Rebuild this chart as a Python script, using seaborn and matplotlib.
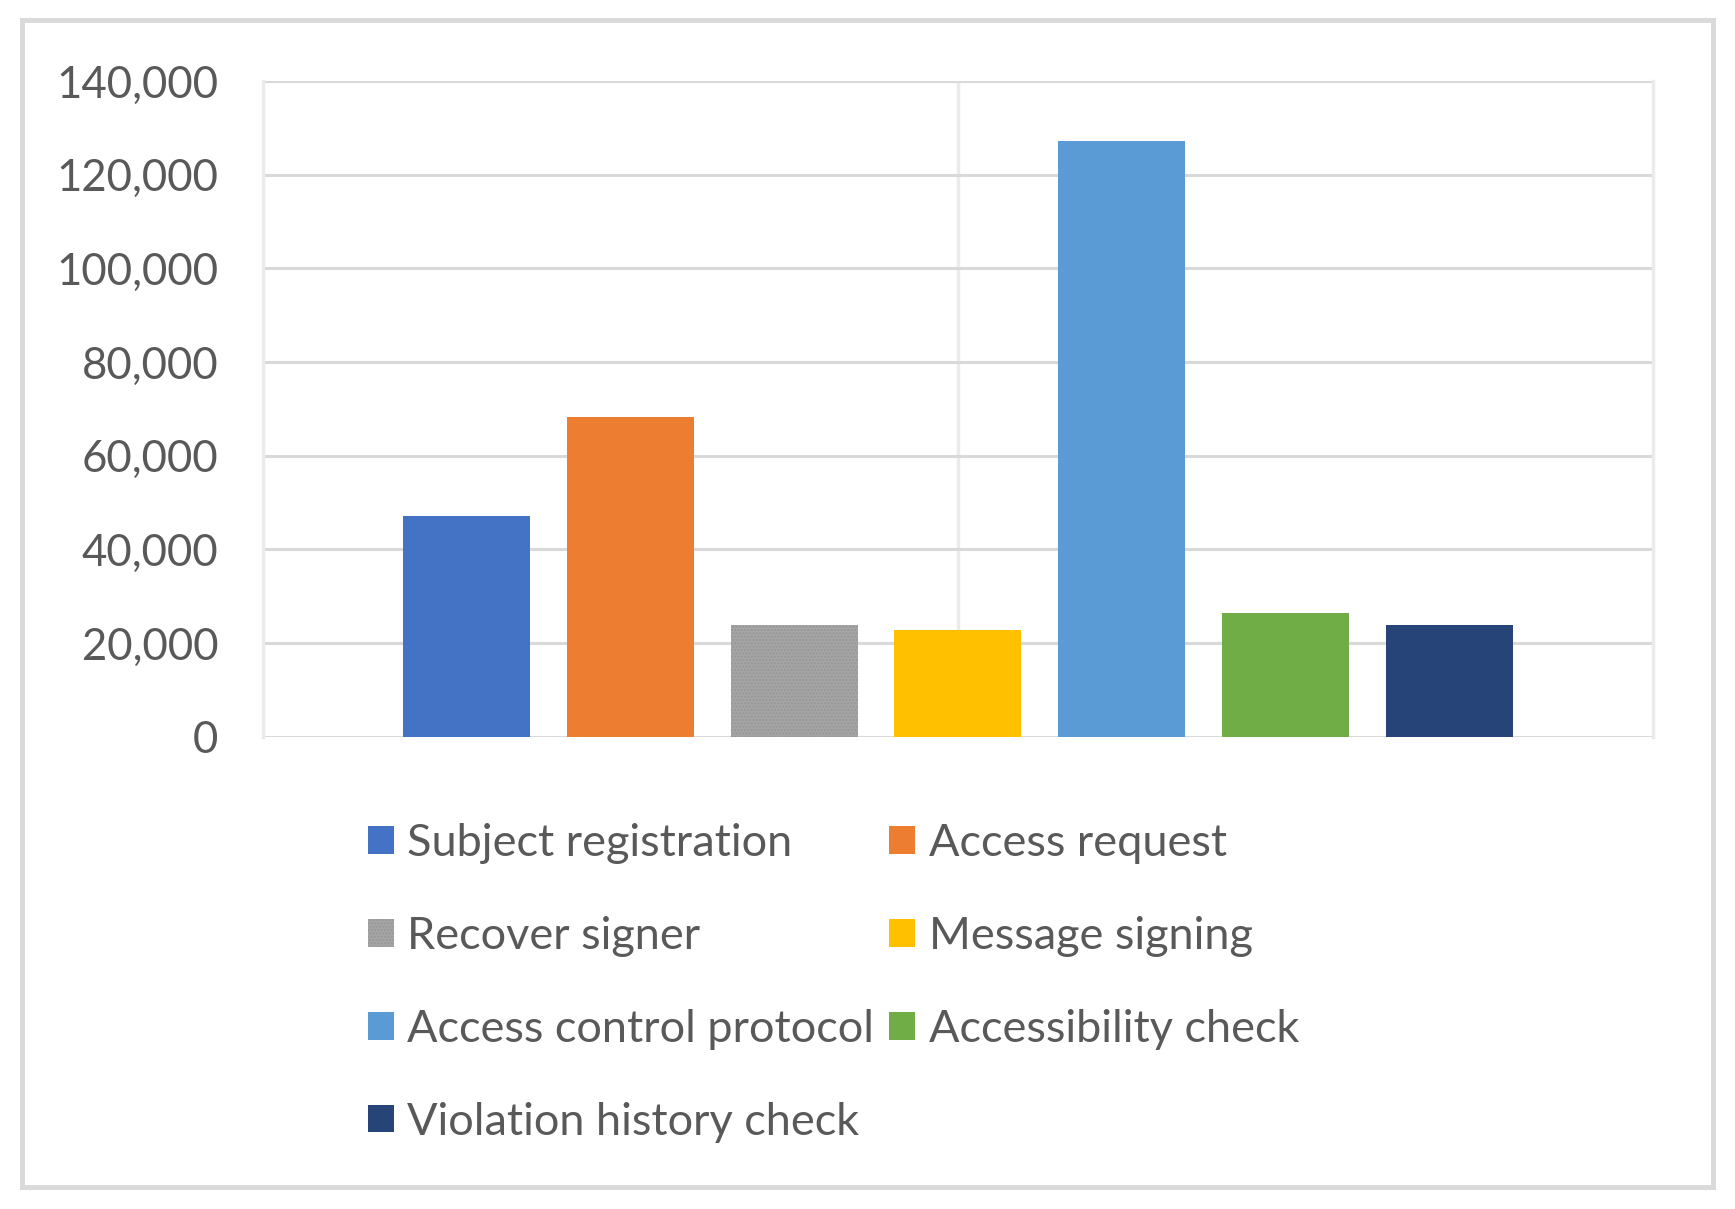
import matplotlib
matplotlib.use("Agg")
import matplotlib.pyplot as plt
import matplotlib.ticker as mticker
from matplotlib.patches import Rectangle
import seaborn as sns
import pandas as pd

categories = ["Subject registration", "Access request", "Recover signer",
              "Message signing", "Access control protocol",
              "Accessibility check", "Violation history check"]
values = [47100, 68200, 23800, 22800, 127200, 26500, 23750]
colors = ["#4472C4", "#ED7D31", "#A5A5A5", "#FFC000", "#5B9BD5", "#70AD47", "#264478"]
yticks = [0, 20000, 40000, 60000, 80000, 100000, 120000, 140000]

sns.set_theme(style="white")
plt.rcParams["font.family"] = ["Lato", "DejaVu Sans"]
TXT = "#595959"
FS_TICK = 31.5
FS_LEG = 32.5

W, H = 1735, 1209
fig = plt.figure(figsize=(W / 100, H / 100), dpi=100)
ax = fig.add_axes([262.7 / W, 1 - 736.7 / H, (1653 - 262.7) / W, (736.7 - 81) / H])

df = pd.DataFrame({"cat": categories, "val": values})
sns.barplot(data=df, x="cat", y="val", hue="cat", palette=colors, dodge=False,
            width=0.776, ax=ax, legend=True, linewidth=0, saturation=1)

# dotted texture for "Recover signer"
for p in ax.patches:
    fc = p.get_facecolor()
    if abs(fc[0] - 0xA5 / 255) < 0.01 and abs(fc[1] - 0xA5 / 255) < 0.01:
        p.set_hatch(".....")
        p.set_edgecolor("#969696")
        p.set_linewidth(0)

n = len(categories)
ax.set_xlim(-1.245, n - 1 + 1.245)
ax.set_ylim(yticks[0], yticks[-1])
ax.set_yticks(yticks)
ax.yaxis.set_major_formatter(mticker.StrMethodFormatter("{x:,.0f}"))
ax.set_xticks([])
ax.set_xlabel("")
ax.set_ylabel("")
ax.tick_params(axis="y", length=0, pad=32, labelsize=FS_TICK, labelcolor=TXT)
ax.yaxis.grid(True, color="#D9D9D9", linewidth=2.2)
ax.set_axisbelow(True)
for s in ["top", "bottom"]:
    ax.spines[s].set_visible(False)
for s in ["left", "right"]:
    ax.spines[s].set_color("#EBEBEB")
    ax.spines[s].set_linewidth(2.5)
ax.axvline((n - 1) / 2, color="#EBEBEB", linewidth=2.5, zorder=0)

handles, labels = ax.get_legend_handles_labels()
ax.get_legend().remove()
order = [0, 2, 4, 6, 1, 3, 5]
leg = fig.legend([handles[i] for i in order], [labels[i] for i in order],
                 ncol=2, loc="upper left",
                 bbox_to_anchor=(368 / W, 1 - 823 / H), bbox_transform=fig.transFigure,
                 frameon=False, fontsize=FS_LEG, borderpad=0, borderaxespad=0,
                 handlelength=0.575, handleheight=0.555, handletextpad=0.30,
                 columnspacing=0.33, labelspacing=1.15)
for t in leg.get_texts():
    t.set_color(TXT)

# outer frame
fig.patches.append(Rectangle((22 / W, 1 - 1187 / H), (1713 - 22) / W, (1187 - 20) / H,
                             transform=fig.transFigure, fill=False,
                             edgecolor="#D9D9D9", linewidth=3.5))

fig.savefig("out.png", dpi=100, facecolor="white")
